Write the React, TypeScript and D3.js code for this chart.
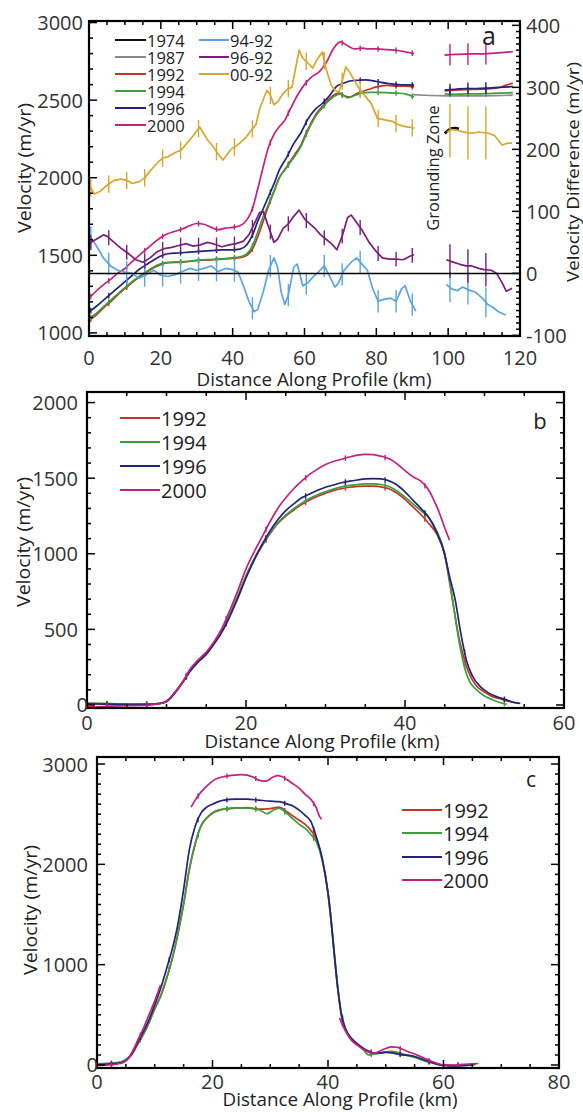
import React from 'react';
import * as d3 from 'd3';

type Pt = [number, number];
type Seg = Pt[];

// colours picked off the figure
const C1974 = '#111111';
const C1987 = '#8a8a8a';
const C1992 = '#c83228';
const C1994 = '#3c9e3c';
const C1996 = '#23237a';
const C2000 = '#c4207e';
const C9492 = '#5ba3e3';
const C9692 = '#7a1f7a';
const C0092 = '#d8a630';

// ---- panel a: velocity along profile (left axis, m/yr) ----
const a1974: Seg[] = [[[99, 2285], [100, 2305], [101, 2318], [102, 2320], [103, 2315]]];
const a1987: Seg[] = [[[90, 2535], [95, 2530], [100, 2527], [105, 2527], [110, 2528], [115, 2530], [118, 2532]]];
const a1992: Seg[] = [
  [[0, 1080], [2, 1115], [4, 1160], [6, 1200], [8, 1245], [10, 1285], [12, 1325], [14, 1360], [16, 1390], [18, 1420],
   [20, 1440], [22, 1452], [25, 1455], [28, 1460], [31, 1468], [34, 1470], [37, 1475], [40, 1480], [42, 1485], [44, 1500],
   [45.5, 1540], [47, 1620], [48.5, 1720], [50, 1820], [51.5, 1910], [53, 2000], [55, 2070], [57, 2140], [59, 2210],
   [60.5, 2290], [62, 2360], [63.5, 2420], [65, 2460], [66.5, 2500], [68, 2530], [69.5, 2545], [71, 2530], [72.5, 2520],
   [74, 2535], [76, 2555], [78, 2570], [80, 2585], [83, 2595], [86, 2590], [88, 2590], [90.5, 2585]],
  [[99, 2560], [102, 2565], [105, 2568], [108, 2570], [111, 2572], [114, 2580], [116, 2595], [118, 2610]],
];
const a1994: Seg[] = [
  [[0, 1090], [2, 1125], [4, 1168], [6, 1210], [8, 1252], [10, 1292], [12, 1330], [14, 1366], [16, 1396], [18, 1425],
   [20, 1445], [22, 1455], [25, 1458], [28, 1463], [31, 1470], [34, 1473], [37, 1478], [40, 1483], [42, 1490], [44, 1510],
   [45.5, 1560], [47, 1650], [48.5, 1750], [50, 1830], [51.5, 1915], [53, 2000], [55, 2065], [57, 2130], [59, 2200],
   [60.5, 2280], [62, 2350], [63.5, 2410], [65, 2450], [66.5, 2490], [68, 2520], [70, 2540], [72, 2515], [74, 2530],
   [76, 2545], [78, 2550], [80, 2550], [83, 2548], [86, 2545], [88, 2540], [90.5, 2520]],
  [[99, 2540], [102, 2538], [105, 2540], [108, 2540], [111, 2542], [114, 2545], [118, 2548]],
];
const a1996: Seg[] = [
  [[0, 1135], [2, 1170], [4, 1210], [6, 1250], [8, 1290], [10, 1330], [12, 1370], [14, 1410], [16, 1440], [18, 1470],
   [20, 1495], [22, 1510], [25, 1515], [28, 1520], [31, 1525], [34, 1530], [37, 1535], [40, 1535], [42, 1540], [44, 1570],
   [45.5, 1630], [47, 1720], [48.5, 1800], [50, 1880], [51.5, 1960], [53, 2050], [55, 2130], [57, 2220], [59, 2290],
   [61, 2380], [63, 2440], [65, 2480], [67, 2530], [69, 2590], [71, 2610], [73, 2625], [75, 2628], [77, 2630], [80, 2620],
   [83, 2608], [86, 2600], [88, 2598], [90.5, 2597]],
  [[99, 2565], [102, 2570], [105, 2575], [108, 2575], [111, 2578], [114, 2582], [118, 2587]],
];
const a2000: Seg[] = [
  [[0.5, 1235], [2, 1270], [4, 1310], [6, 1345], [8, 1385], [10, 1415], [12, 1460], [14, 1500], [16, 1540], [18, 1580],
   [20, 1615], [22, 1640], [24, 1655], [26, 1670], [28, 1690], [30, 1705], [32, 1700], [34, 1680], [36, 1665], [38, 1675],
   [40, 1680], [42, 1690], [44, 1730], [45.5, 1800], [47, 1930], [48.5, 2070], [50, 2200], [51.5, 2280], [53, 2330],
   [54.5, 2370], [56, 2440], [58, 2530], [60, 2600], [62, 2650], [64, 2680], [66, 2740], [68, 2830], [70, 2875],
   [72, 2850], [74, 2830], [76, 2835], [78, 2830], [80, 2830], [83, 2825], [86, 2820], [88, 2812], [90.5, 2800]],
  [[99, 2790], [102, 2795], [105, 2797], [108, 2798], [111, 2800], [114, 2805], [118, 2812]],
];

// ---- panel a: velocity differences (right axis, m/yr) ----
const d9492: Seg[] = [
  [[0, 62], [2, 45], [4, 25], [6, 12], [8, 5], [10, 2], [12, 0], [14, -8], [16, -2], [18, 5], [20, -3], [22, -5], [24, -2],
   [26, 3], [28, 8], [30, 5], [32, 8], [34, 12], [36, 3], [38, 8], [40, 6], [41.5, 2], [43, -20], [44.5, -45], [46, -62],
   [47, -58], [48.5, -30], [50, 5], [51.5, 25], [52.5, 10], [53.5, -30], [54.5, -50], [55.5, -35], [57, 10], [58, 15],
   [59.5, -20], [61, -15], [62.5, -5], [64, 3], [65.5, 12], [67, -5], [68.5, -22], [69.5, -15], [71, 5], [73, 18],
   [74.5, 25], [76, 15], [77.5, 5], [79, -25], [80.5, -45], [82, -42], [84, -40], [85.5, -45], [87, -25], [88, -20],
   [89.5, -45], [91, -61]],
  [[99.5, -18], [101, -25], [102.5, -28], [104, -22], [105.8, -27], [107.5, -30], [109.5, -40], [111, -50], [112.5, -55],
   [114, -62], [116, -67]],
];
const d9692: Seg[] = [
  [[0, 48], [2, 55], [4, 62], [5, 60], [7, 50], [9, 40], [11, 32], [13, 22], [15, 18], [17, 25], [19, 35], [21, 40],
   [23, 42], [25, 45], [27, 48], [29, 44], [31, 46], [33, 50], [35, 47], [37, 43], [39, 46], [41, 48], [43, 52],
   [44.5, 62], [46, 80], [47.5, 98], [48.5, 100], [50, 75], [51.5, 50], [52.5, 55], [54, 72], [55.5, 80], [57, 92],
   [58.5, 102], [60, 88], [61.5, 80], [63, 72], [64.5, 62], [66, 55], [67.5, 48], [69, 38], [70.5, 60], [72, 90],
   [73, 94], [74.5, 82], [76, 70], [78, 50], [80, 35], [81.7, 25], [83.5, 23], [85.5, 23], [87.5, 22], [89.5, 28], [90.5, 30]],
  [[99.5, 22], [101, 19], [103, 15], [105, 12], [106.6, 12], [108.5, 8], [110, 6], [112, 5], [113.5, 0], [115, -15],
   [116.2, -29], [117.8, -24]],
];
const d0092: Seg[] = [
  [[0, 143], [1.5, 128], [3, 132], [5, 142], [7, 150], [9, 152], [10.5, 150], [12, 145], [14, 148], [15.5, 154], [17, 165],
   [19, 178], [20.5, 186], [22, 188], [24, 195], [25.7, 199], [27, 208], [29, 222], [30.8, 236], [32, 225], [33, 215],
   [34.5, 205], [36, 192], [37.3, 183], [38.5, 192], [39.5, 200], [40.6, 204], [42, 210], [43.5, 218], [45.2, 231],
   [46.5, 240], [47.5, 265], [48.5, 280], [49.5, 295], [50.3, 290], [51.5, 272], [52.6, 277], [54, 290], [55.4, 298],
   [56.5, 300], [57.5, 330], [58.5, 360], [59.5, 347], [60.5, 342], [61.5, 336], [62.3, 331], [63.5, 345], [65, 357],
   [66, 330], [67.4, 304], [68.5, 295], [69.6, 293], [70.5, 310], [71.5, 333], [72.5, 325], [73.8, 312], [75, 300],
   [77, 285], [78.5, 275], [80.3, 250], [82, 248], [84.5, 245], [86, 240], [87.7, 237], [89, 236], [90.6, 234]],
  [[99.7, 228], [101, 232], [103, 230], [105, 227], [106.7, 226], [108.5, 228], [111.3, 226], [113, 222], [115, 207],
   [116.5, 210], [117.8, 210]],
];

// error-bar positions (km) on panel a
const errA1 = [0.5, 5.5, 10.5, 15.5, 20.5, 25.5, 30.5, 35.5, 40.5, 45.5, 50.5, 55.5, 60.5, 65.5, 70.5, 75.5, 80.5, 85.5, 90];
const errA2 = [100.5, 105.5, 110.5];

// ---- panel b ----
const b1992: Seg[] = [[[0, 10], [2, 8], [4, 5], [6, 5], [8, 5], [9, 10], [10, 25], [11, 80], [12, 150], [13, 230], [14, 290],
  [15, 340], [16, 410], [17, 490], [18, 600], [19, 720], [20, 850], [21, 960], [22, 1050], [23, 1130], [24, 1200], [25, 1250],
  [26, 1290], [27, 1325], [28, 1355], [29, 1380], [30, 1400], [31, 1418], [32, 1430], [33, 1440], [34, 1446], [35, 1448],
  [36, 1447], [37, 1442], [38, 1430], [39, 1400], [40, 1360], [41, 1310], [42, 1260], [43, 1200], [44, 1130], [45, 990],
  [45.8, 750], [46.8, 440], [47.7, 260], [49, 125], [50, 85], [51, 55], [52, 40], [53, 25], [54.3, 10]]];
const b1994: Seg[] = [[[0, 12], [2, 10], [4, 8], [6, 6], [8, 6], [9, 10], [10, 25], [11, 80], [12, 150], [13, 230], [14, 290],
  [15, 340], [16, 410], [17, 495], [18, 605], [19, 725], [20, 855], [21, 965], [22, 1055], [23, 1135], [24, 1205], [25, 1255],
  [26, 1298], [27, 1335], [28, 1365], [29, 1390], [30, 1410], [31, 1428], [32, 1442], [33, 1452], [34, 1458], [35, 1462],
  [36, 1462], [37, 1458], [38, 1445], [39, 1415], [40, 1375], [41, 1330], [42, 1285], [43, 1240], [44, 1150], [45, 1000],
  [45.8, 760], [46.8, 420], [47.7, 210], [48.2, 150], [49, 100], [50, 60], [51, 35], [52, 15], [52.8, 5]]];
const b1996: Seg[] = [[[0, 8], [2, 6], [4, 4], [6, 3], [8, 4], [9, 8], [10, 22], [11, 75], [12, 145], [13, 225], [14, 285],
  [15, 335], [16, 405], [17, 485], [18, 590], [19, 710], [20, 840], [21, 955], [22, 1060], [23, 1150], [24, 1225],
  [25, 1285], [26, 1330], [27, 1370], [28, 1395], [29, 1420], [30, 1440], [31, 1455], [32, 1470], [33, 1480], [34, 1488],
  [35, 1495], [36, 1497], [37, 1495], [38, 1482], [39, 1455], [40, 1410], [41, 1355], [42, 1300], [43, 1240], [44, 1140],
  [44.9, 1015], [45.6, 850], [46.3, 700], [47, 480], [47.7, 300], [48.5, 190], [49.5, 120], [50.5, 80], [51.5, 55],
  [52.4, 40], [53.5, 20], [54.5, 10]]];
const b2000: Seg[] = [[[0, -12], [2, -10], [4, -6], [6, -4], [8, 0], [9, 8], [10, 25], [11, 80], [12, 150], [13, 240],
  [14, 300], [15, 350], [16, 420], [17, 510], [18, 630], [19, 760], [20, 900], [21, 1010], [22, 1110], [23, 1210],
  [24, 1300], [25, 1370], [26, 1430], [27, 1480], [28, 1525], [29, 1560], [30, 1590], [31, 1610], [32, 1625], [33, 1640],
  [34, 1652], [35, 1658], [36, 1656], [37, 1645], [38, 1628], [39, 1595], [40, 1550], [41, 1510], [42, 1480], [43, 1420],
  [43.5, 1370], [44.4, 1260], [45, 1170], [45.6, 1090]]];
const errB = [2.5, 7.5, 12.5, 17.5, 22.5, 27.5, 32.5, 37.5, 42.5, 47.5, 52.5];

// ---- panel c ----
const c1992: Seg[] = [[[0, 10], [2, 15], [4, 25], [5, 50], [6, 100], [7, 200], [8, 300], [9, 420], [10, 560], [11, 680],
  [12, 850], [13, 1050], [14, 1300], [15, 1600], [16, 1950], [17, 2200], [18, 2380], [19, 2460], [20, 2510], [21, 2535],
  [22, 2550], [24, 2560], [26, 2565], [28, 2550], [30, 2555], [31.5, 2570], [33, 2520], [34, 2480], [35, 2440], [36, 2400],
  [37, 2340], [38, 2250], [39, 2050], [40, 1700], [40.5, 1450], [41, 1150], [41.7, 750], [42.3, 500], [43, 360], [44, 260],
  [45, 210], [46, 170], [47, 130], [48, 115], [49, 120], [50, 130], [51, 135], [52, 125], [53, 110], [54, 95], [55, 80],
  [56, 60], [57, 40], [58, 25], [59, 10], [60, 0], [62, -5], [64, 0], [65.6, 5]]];
const c1994: Seg[] = [[[0, 12], [2, 16], [4, 28], [5, 55], [6, 105], [7, 205], [8, 305], [9, 425], [10, 565], [11, 690],
  [12, 860], [13, 1060], [14, 1310], [15, 1610], [16, 1960], [17, 2210], [18, 2385], [19, 2465], [20, 2515], [21, 2540],
  [22, 2552], [24, 2562], [26, 2560], [28, 2545], [29.5, 2505], [30.5, 2540], [31.5, 2560], [33, 2500], [34, 2450],
  [35, 2400], [36, 2360], [37, 2300], [38, 2220], [39, 2040], [40, 1720], [40.5, 1480], [41, 1180], [41.7, 780],
  [42.3, 520], [43, 370], [44, 265], [45, 205], [46, 160], [47, 100], [48, 110], [49, 118], [50, 128], [51, 130], [52, 120],
  [53, 105], [54, 90], [55, 75], [56, 55], [57, 35], [58, 20], [59, 8], [60, -2], [62, -3], [64, 2], [65.5, 4]]];
const c1996: Seg[] = [[[0, 5], [2, 10], [4, 20], [5, 45], [6, 110], [7, 220], [8, 330], [9, 450], [10, 600], [11, 760],
  [12, 950], [13, 1150], [14, 1400], [15, 1750], [16, 2150], [17, 2380], [18, 2510], [19, 2570], [20, 2600], [21, 2625],
  [22, 2640], [24, 2650], [26, 2650], [28, 2640], [30, 2630], [31.5, 2625], [33, 2600], [34, 2580], [35, 2540], [36, 2490],
  [37, 2430], [38, 2270], [39, 2060], [40, 1720], [40.5, 1460], [41, 1160], [41.7, 760], [42.3, 510], [43, 360], [44, 270],
  [45, 215], [46, 170], [47, 140], [48, 120], [49, 120], [50, 125], [51, 120], [52, 110], [53, 100], [54, 95], [55, 85],
  [56, 65], [57, 45], [58, 25], [59, 5], [60, -5], [62, -10], [64, -5], [65, 0]]];
const c2000: Seg[] = [
  [[0, -5], [2, 0], [4, 15], [5, 40], [6, 120], [7, 240], [8, 360], [9, 500], [10, 640], [11, 800]],
  [[16.3, 2570], [17, 2640], [18, 2720], [19, 2780], [20, 2830], [21, 2860], [22, 2875], [23, 2885], [24, 2890],
   [25, 2895], [26, 2890], [27, 2870], [28, 2840], [29, 2830], [29.5, 2835], [30.5, 2870], [31.3, 2885], [32, 2875],
   [33, 2840], [34, 2800], [35, 2760], [36, 2700], [37, 2650], [38, 2560], [38.5, 2480], [38.9, 2450]],
  [[42, 470], [43, 340], [44, 250], [45, 200], [46, 160], [47, 130], [48, 120], [49, 140], [50, 165], [51, 180], [52, 175],
   [53, 155], [54, 130], [55, 110], [56, 85], [57, 60], [58, 35], [59, 15], [60, 0], [62, 0], [64, 10], [66, 15]],
];
const errC = [2.5, 7.5, 12.5, 17.5, 22.5, 27.5, 32.5, 37.5, 42.5, 47.5, 52.5, 57.5, 62.5];

// tick labels
const xLabA = [0, 20, 40, 60, 80, 100, 120];
const yLabA = [1000, 1500, 2000, 2500, 3000];
const y2LabA = [-100, 0, 100, 200, 300, 400];
const xLabB = [0, 20, 40, 60];
const yLabB = [0, 500, 1000, 1500, 2000];
const xLabC = [0, 20, 40, 60, 80];
const yLabC = [0, 1000, 2000, 3000];

const FONT = '"Open Sans", "DejaVu Sans", sans-serif';

type Err = { at: number[]; half: number };
type Series = { name: string; color: string; width?: number; segs: Seg[]; right?: boolean; errs?: Err[]; curve?: boolean };

// value on a series at a given km (for placing the error ticks on the line)
function valueAt(segs: Seg[], km: number): number | null {
  for (const s of segs) {
    if (km < s[0][0] || km > s[s.length - 1][0]) continue;
    const i = d3.bisector((d: Pt) => d[0]).left(s, km);
    if (i === 0) return s[0][1];
    const p0 = s[i - 1], p1 = s[i];
    const t = (km - p0[0]) / (p1[0] - p0[0]);
    return p0[1] + t * (p1[1] - p0[1]);
  }
  return null;
}

function steps(d0: number, d1: number, step: number) {
  return d3.range(Math.ceil(d0 / step) * step, d1 + 1e-9, step);
}

type PanelProps = {
  id: string;
  left: number; right: number; top: number; bottom: number;
  xDomain: [number, number]; yDomain: [number, number]; y2Domain?: [number, number];
  xMinor: number; xMajor: number; yMinor: number; yMajor: number; y2Minor?: number; y2Major?: number;
  xLabels: number[]; yLabels: number[]; y2Labels?: number[];
  xLabDy: number; yLabDx: number;
  series: Series[];
  xTitle: { x: number; y: number };
  yTitle: { x: number; y: number };
};

function Panel(p: PanelProps) {
  const x = d3.scaleLinear().domain(p.xDomain).range([p.left, p.right]);
  const y = d3.scaleLinear().domain(p.yDomain).range([p.bottom, p.top]);
  const y2 = p.y2Domain ? d3.scaleLinear().domain(p.y2Domain).range([p.bottom, p.top]) : null;
  const isMaj = (v: number, m: number) => Math.abs(v / m - Math.round(v / m)) < 1e-6;

  const ticks: JSX.Element[] = [];
  steps(p.xDomain[0], p.xDomain[1], p.xMinor).forEach((v, i) => {
    const len = isMaj(v, p.xMajor) ? 8 : 4;
    ticks.push(<line key={'xb' + i} x1={x(v)} x2={x(v)} y1={p.bottom} y2={p.bottom - len} />);
    ticks.push(<line key={'xt' + i} x1={x(v)} x2={x(v)} y1={p.top} y2={p.top + len} />);
  });
  steps(p.yDomain[0], p.yDomain[1], p.yMinor).forEach((v, i) => {
    const len = isMaj(v, p.yMajor) ? 8 : 4;
    ticks.push(<line key={'yl' + i} x1={p.left} x2={p.left + len} y1={y(v)} y2={y(v)} />);
    if (!y2) ticks.push(<line key={'yr' + i} x1={p.right} x2={p.right - len} y1={y(v)} y2={y(v)} />);
  });
  if (y2 && p.y2Domain) {
    steps(p.y2Domain[0], p.y2Domain[1], p.y2Minor!).forEach((v, i) => {
      const len = isMaj(v, p.y2Major!) ? 8 : 4;
      ticks.push(<line key={'y2' + i} x1={p.right} x2={p.right - len} y1={y2(v)} y2={y2(v)} />);
    });
  }

  return (
    <g>
      <defs>
        <clipPath id={p.id}>
          <rect x={p.left} y={p.top} width={p.right - p.left} height={p.bottom - p.top} />
        </clipPath>
      </defs>
      <g clipPath={`url(#${p.id})`}>
        {p.series.map((s) => {
          const ys = s.right && y2 ? y2 : y;
          const line = d3.line<Pt>().x((d) => x(d[0])).y((d) => ys(d[1]))
            .curve(s.curve ? d3.curveMonotoneX : d3.curveLinear);
          return (
            <g key={s.name}>
              {s.segs.map((seg, j) => (
                <path key={j} d={line(seg) || ''} fill="none" stroke={s.color} strokeWidth={s.width ?? 1.7}
                  strokeLinejoin="round" />
              ))}
              {(s.errs || []).map((e, k) => e.at.map((km, m) => {
                const v = valueAt(s.segs, km);
                if (v === null) return null;
                return <line key={k + '-' + m} x1={x(km)} x2={x(km)} y1={ys(v - e.half)} y2={ys(v + e.half)}
                  stroke={s.color} strokeWidth={1.4} />;
              }))}
            </g>
          );
        })}
      </g>
      <g stroke="#000" strokeWidth={1.5}>{ticks}</g>
      <rect x={p.left} y={p.top} width={p.right - p.left} height={p.bottom - p.top} fill="none" stroke="#000" strokeWidth={2.2} />
      <g fontFamily={FONT} fontSize={20} fill="#333">
        {p.xLabels.map((v) => (
          <text key={'xl' + v} x={x(v)} y={p.bottom + p.xLabDy} textAnchor="middle">{v}</text>
        ))}
        {p.yLabels.map((v) => (
          <text key={'yl' + v} x={v === 0 ? p.left + 1 : p.left - p.yLabDx} y={y(v)} textAnchor="end"
            dominantBaseline="central">{v}</text>
        ))}
        {y2 && (p.y2Labels || []).map((v) => (
          <text key={'y2l' + v} x={p.right + 6} y={y2(v)} textAnchor="start" dominantBaseline="central">{v}</text>
        ))}
      </g>
      <g fontFamily={FONT} fill="#222">
        <text x={p.xTitle.x} y={p.xTitle.y} textAnchor="middle" fontSize={19} textLength={235}
          lengthAdjust="spacingAndGlyphs">Distance Along Profile (km)</text>
        <text transform={`translate(${p.yTitle.x},${p.yTitle.y}) rotate(-90)`} textAnchor="middle" fontSize={18}
          textLength={130} lengthAdjust="spacingAndGlyphs" dominantBaseline="central">Velocity (m/yr)</text>
      </g>
    </g>
  );
}

function Legend({ items, x0, x1, ys, font }: { items: { name: string; color: string }[]; x0: number; x1: number; ys: number[]; font: number }) {
  return (
    <g fontFamily={FONT} fontSize={font} fill="#222">
      {items.map((it, i) => (
        <g key={it.name}>
          <line x1={x0} x2={x1} y1={ys[i]} y2={ys[i]} stroke={it.color} strokeWidth={2} />
          <text x={x1 + 1} y={ys[i]} dominantBaseline="central">{it.name}</text>
        </g>
      ))}
    </g>
  );
}

export default function App() {
  const velA: Series[] = [
    { name: '1987', color: C1987, segs: a1987 },
    { name: '1992', color: C1992, segs: a1992, curve: true, errs: [{ at: errA1, half: 18 }, { at: errA2, half: 20 }] },
    { name: '1994', color: C1994, segs: a1994, curve: true, errs: [{ at: errA1, half: 18 }, { at: errA2, half: 20 }] },
    { name: '1996', color: C1996, segs: a1996, curve: true, errs: [{ at: errA1, half: 18 }, { at: errA2, half: 38 }] },
    { name: '2000', color: C2000, segs: a2000, curve: true, errs: [{ at: errA1, half: 18 }, { at: errA2, half: 70 }] },
    { name: '1974', color: C1974, segs: a1974, width: 2.6, curve: true },
    { name: '94-92', color: C9492, segs: d9492, right: true, errs: [{ at: errA1, half: 18 }, { at: errA2, half: 24 }] },
    { name: '96-92', color: C9692, segs: d9692, right: true, errs: [{ at: errA1, half: 12 }, { at: errA2, half: 27 }] },
    { name: '00-92', color: C0092, segs: d0092, right: true, errs: [{ at: errA1, half: 14 }, { at: errA2, half: 43 }] },
  ];
  const velB: Series[] = [
    { name: '1992', color: C1992, segs: b1992, curve: true, errs: [{ at: errB, half: 18 }] },
    { name: '1994', color: C1994, segs: b1994, curve: true, errs: [{ at: errB, half: 18 }] },
    { name: '1996', color: C1996, segs: b1996, curve: true, errs: [{ at: errB, half: 18 }] },
    { name: '2000', color: C2000, segs: b2000, curve: true, errs: [{ at: errB, half: 18 }] },
  ];
  const velC: Series[] = [
    { name: '1992', color: C1992, segs: c1992, curve: true, errs: [{ at: errC, half: 25 }] },
    { name: '1994', color: C1994, segs: c1994, curve: true, errs: [{ at: errC, half: 25 }] },
    { name: '1996', color: C1996, segs: c1996, curve: true, errs: [{ at: errC, half: 25 }] },
    { name: '2000', color: C2000, segs: c2000, curve: true, errs: [{ at: errC, half: 25 }] },
  ];
  const yearItems = [
    { name: '1992', color: C1992 }, { name: '1994', color: C1994 },
    { name: '1996', color: C1996 }, { name: '2000', color: C2000 },
  ];

  return (
    <svg width={583} height={1112} style={{ position: 'absolute', left: 0, top: 0, background: '#fff' }}>
      <rect width={583} height={1112} fill="#fff" />
      <Panel id="clipA" left={89} right={520} top={21} bottom={336}
        xDomain={[0, 120]} yDomain={[980, 3010]} y2Domain={[-101, 407]}
        xMinor={5} xMajor={20} yMinor={100} yMajor={500} y2Minor={10} y2Major={100}
        xLabels={xLabA} yLabels={yLabA} y2Labels={y2LabA}
        xLabDy={29} yLabDx={6}
        series={velA} xTitle={{ x: 314, y: 386 }} yTitle={{ x: 24, y: 168 }} />
      <Legend items={[
        { name: '1974', color: C1974 }, { name: '1987', color: C1987 }, { name: '1992', color: C1992 },
        { name: '1994', color: C1994 }, { name: '1996', color: C1996 }, { name: '2000', color: C2000 },
      ]} x0={115} x1={146} ys={[40, 57, 74, 91, 108, 125]} font={16.5} />
      <Legend items={[
        { name: '94-92', color: C9492 }, { name: '96-92', color: C9692 }, { name: '00-92', color: C0092 },
      ]} x0={199} x1={229} ys={[40, 57, 74]} font={16.5} />
      <text x={489} y={45} fontFamily={FONT} fontSize={25} fill="#222" textAnchor="middle">a</text>
      <text transform="translate(432.5,168) rotate(-90)" fontFamily={FONT} fontSize={16.5} fill="#222"
        textAnchor="middle" dominantBaseline="central">Grounding Zone</text>
      <text transform="translate(572,172) rotate(-90)" fontFamily={FONT} fontSize={17} fill="#222"
        textAnchor="middle" dominantBaseline="central" textLength={220}
        lengthAdjust="spacingAndGlyphs">Velocity Difference (m/yr)</text>
      <line x1={89} x2={520} y1={273.5} y2={273.5} stroke="#000" strokeWidth={1.6} />

      <Panel id="clipB" left={87} right={564} top={392} bottom={708}
        xDomain={[0, 60]} yDomain={[-20, 2070]}
        xMinor={5} xMajor={20} yMinor={100} yMajor={500}
        xLabels={xLabB} yLabels={yLabB}
        xLabDy={22} yLabDx={9}
        series={velB} xTitle={{ x: 322, y: 748 }} yTitle={{ x: 23, y: 542 }} />
      <Legend items={yearItems} x0={120} x1={160} ys={[418, 442, 466, 490]} font={20} />
      <text x={540} y={429} fontFamily={FONT} fontSize={22} fill="#222" textAnchor="middle">b</text>

      <Panel id="clipC" left={97} right={559} top={757} bottom={1068}
        xDomain={[0, 80]} yDomain={[-30, 3070]}
        xMinor={5} xMajor={20} yMinor={100} yMajor={1000}
        xLabels={xLabC} yLabels={yLabC}
        xLabDy={21} yLabDx={9}
        series={velC} xTitle={{ x: 340, y: 1106 }} yTitle={{ x: 30, y: 910 }} />
      <Legend items={yearItems} x0={402} x1={442} ys={[810, 833, 857, 880]} font={20} />
      <text x={531} y={787} fontFamily={FONT} fontSize={21} fill="#222" textAnchor="middle">c</text>
    </svg>
  );
}
